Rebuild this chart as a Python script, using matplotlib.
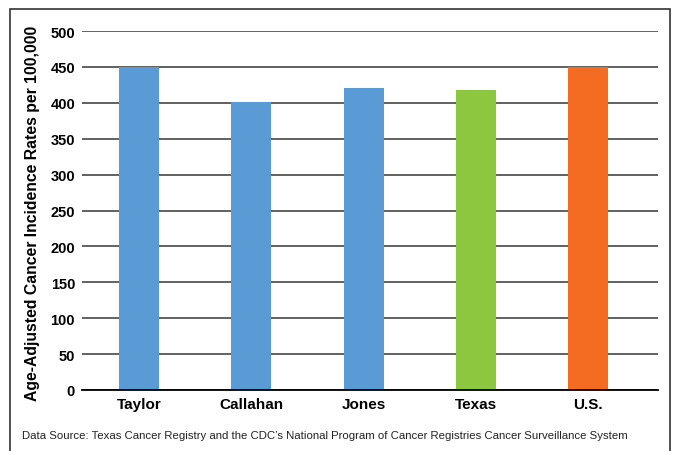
import matplotlib
matplotlib.use("Agg")
import matplotlib.pyplot as plt
from matplotlib import font_manager
from matplotlib.patches import Rectangle

categories = ["Taylor", "Callahan", "Jones", "Texas", "U.S."]
rates = [450, 401, 421, 418, 450]
bar_colors = ["#5B9BD5", "#5B9BD5", "#5B9BD5", "#8DC63F", "#F36C21"]
y_ticks = [0, 50, 100, 150, 200, 250, 300, 350, 400, 450, 500]
y_label = "Age-Adjusted Cancer Incidence Rates per 100,000"
source_note = ("Data Source: Texas Cancer Registry and the CDC\u2019s National Program "
               "of Cancer Registries Cancer Surveillance System")

available = {f.name for f in font_manager.fontManager.ttflist}
narrow = "Liberation Sans Narrow" if "Liberation Sans Narrow" in available else "Liberation Sans"
plt.rcParams["font.family"] = [narrow, "DejaVu Sans"]

W, H = 675, 452
fig = plt.figure(figsize=(W / 100, H / 100), dpi=100)
fig.patch.set_facecolor("white")

# outer frame
fig.patches.append(Rectangle((10 / W, -0.05), 660 / W, 1 - 10 / H + 0.05,
                             transform=fig.transFigure, fill=False,
                             edgecolor="#333333", linewidth=1.2))

ax = fig.add_axes([82 / W, 1 - 391 / H, (658 - 82) / W, (391 - 32) / H])
x = range(len(categories))
ax.set_axisbelow(True)
ax.yaxis.grid(True, color="#555555", linewidth=1.3)
ax.bar(x, rates, width=0.356, color=bar_colors, zorder=3)

ax.set_ylim(0, 500)
ax.set_xlim(-0.507, 4.62)
ax.set_yticks(y_ticks)
ax.set_yticklabels([str(t) for t in y_ticks], fontsize=10.5, fontweight="bold")
ax.set_xticks(list(x))
ax.set_xticklabels(categories, fontsize=11, fontweight="bold")
ax.tick_params(axis="both", length=0)
ax.tick_params(axis="y", pad=5)
ax.tick_params(axis="x", pad=5)
for side in ("top", "right", "left"):
    ax.spines[side].set_visible(False)
ax.spines["bottom"].set_color("black")
ax.spines["bottom"].set_linewidth(1.3)
ax.spines["bottom"].set_zorder(4)

fig.text(33 / W, 1 - 213 / H, y_label, rotation=90, ha="center", va="center",
         fontsize=11.3, fontweight="bold")
fig.text(22 / W, 1 - 436 / H, source_note, ha="left", va="center", fontsize=8.2,
         color="#222222")

fig.savefig("out.png", dpi=100)
